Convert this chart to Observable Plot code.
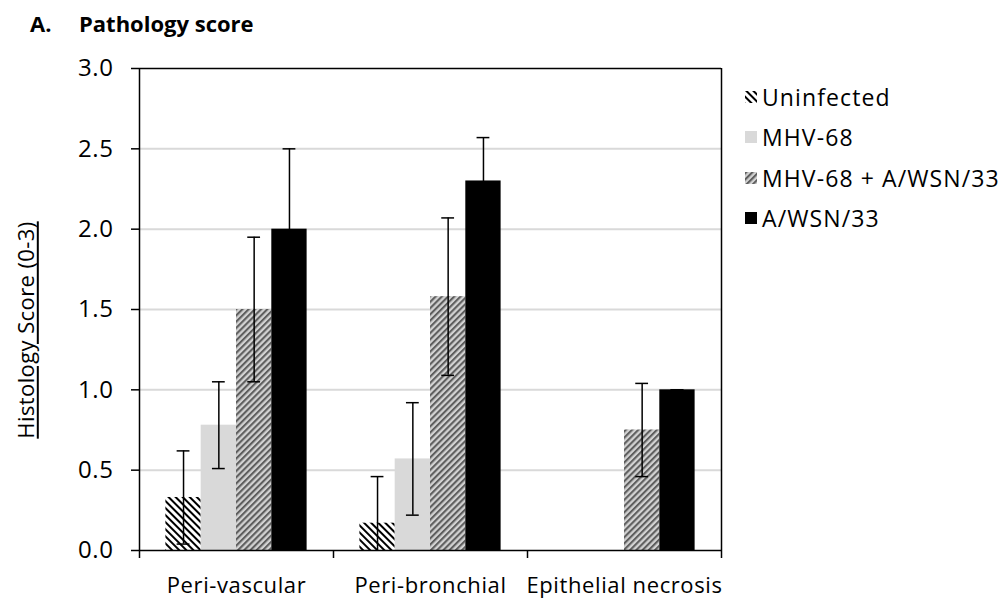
<!DOCTYPE html>
<html>
<head>
<meta charset="utf-8">
<script src="https://cdn.jsdelivr.net/npm/d3@7"></script>
<script src="https://cdn.jsdelivr.net/npm/@observablehq/plot@0.6"></script>
<style>
  body { margin: 0; background: #fff; font-family: "Open Sans", sans-serif; color: #000; }
  #wrap { position: relative; width: 1005px; height: 599px; overflow: hidden; }
  #title { position: relative; height: 40px; font-weight: bold; font-size: 22px; line-height: 1.362; }
  #title span { position: absolute; top: 9px; }
  #ylabel { position: absolute; left: 25px; top: 330px; font-size: 22px; letter-spacing: 0.4px; white-space: nowrap;
            line-height: 1.2; text-decoration: underline; text-underline-offset: 3px;
            transform: translate(-50%, -50%) rotate(-90deg); }
  #legend { position: absolute; left: 745px; top: 77px; font-size: 23px; letter-spacing: 1.1px; }
  .item { display: flex; align-items: center; height: 40.3px; }
  .item svg { margin-right: 5px; }
  #defs { position: absolute; width: 0; height: 0; }
</style>
</head>
<body>
<div id="wrap">
  <div id="title"><span style="left:30px">A.</span><span style="left:79px">Pathology score</span></div>
  <div id="chart"></div>
  <div id="ylabel">Histology Score (0-3)</div>
  <div id="legend"></div>
  <svg id="defs" aria-hidden="true">
    <defs>
      <pattern id="hatch-uninfected" patternUnits="userSpaceOnUse" width="5" height="5" patternTransform="rotate(-45)">
        <rect width="5" height="5" fill="#ffffff"></rect>
        <rect width="2" height="5" fill="#000000"></rect>
      </pattern>
      <pattern id="hatch-coinfected" patternUnits="userSpaceOnUse" width="4.4" height="4.4" patternTransform="rotate(45)">
        <rect width="4.4" height="4.4" fill="#d2d2d2"></rect>
        <rect width="2.1" height="4.4" fill="#5e5e5e"></rect>
      </pattern>
    </defs>
  </svg>
</div>
<script>
// Histology scores (mean ± error) per lesion type and infection group
const categories = ["Peri-vascular", "Peri-bronchial", "Epithelial necrosis"];
const series = ["Uninfected", "MHV-68", "MHV-68 + A/WSN/33", "A/WSN/33"];

const uninfected    = [0.33, 0.17, 0];
const uninfectedErr = [0.29, 0.29, 0];
const mhv68         = [0.78, 0.57, 0];
const mhv68Err      = [0.27, 0.35, 0];
const coinfected    = [1.50, 1.58, 0.75];
const coinfectedErr = [0.45, 0.49, 0.29];
const wsn           = [2.00, 2.30, 1.00];
const wsnErr        = [0.50, 0.27, 0];

const yTicks = [0, 0.5, 1, 1.5, 2, 2.5, 3];
const gridTicks = [0.5, 1, 1.5, 2, 2.5];

const seriesValues = [uninfected, mhv68, coinfected, wsn];
const seriesErrors = [uninfectedErr, mhv68Err, coinfectedErr, wsnErr];
const seriesFills = ["url(#hatch-uninfected)", "#d9d9d9", "url(#hatch-coinfected)", "#000000"];

// Each category spans one unit on x; four bars are clustered in its middle.
const barWidth = 0.182;
const groupOffset = (1 - series.length * barWidth) / 2;
const capHalf = 0.033;

const rows = categories.flatMap((category, i) =>
  series.map((s, j) => ({
    i, j, category, series: s,
    value: seriesValues[j][i],
    err: seriesErrors[j][i]
  }))
);
const left = d => d.i + groupOffset + d.j * barWidth;
const center = d => left(d) + barWidth / 2;
const withError = rows.filter(d => d.value > 0);
const caps = withError.flatMap(d => [
  {...d, y: d.value + d.err},
  {...d, y: d.value - d.err}
]).filter(d => d.y >= 0);

const chart = Plot.plot({
  width: 1005,
  height: 559,
  marginTop: 28,
  marginBottom: 49,
  marginLeft: 139,
  marginRight: 284,
  style: { fontFamily: "Open Sans, sans-serif", fontSize: "22px", color: "#000", background: "transparent", letterSpacing: "0.6px" },
  x: { domain: [0, categories.length], axis: null },
  y: { domain: [0, 3], axis: null },
  color: { domain: series, range: seriesFills },
  marks: [
    Plot.ruleY(gridTicks, { stroke: "#d9d9d9", strokeWidth: 2 }),
    Plot.rectY(rows, {
      x1: left,
      x2: d => left(d) + barWidth,
      y: "value",
      fill: "series"
    }),
    Plot.ruleX(withError, {
      x: center,
      y1: d => d.value - d.err,
      y2: d => d.value + d.err,
      stroke: "#000",
      strokeWidth: 1.5,
      clip: true
    }),
    Plot.ruleY(caps, {
      x1: d => center(d) - capHalf,
      x2: d => center(d) + capHalf,
      y: "y",
      stroke: "#000",
      strokeWidth: 1.5
    }),
    Plot.ruleY([3], { stroke: "#000", strokeWidth: 1.5 }),
    Plot.ruleX([categories.length], { stroke: "#000", strokeWidth: 1.5 }),
    Plot.ruleX([0], { stroke: "#000", strokeWidth: 1.5 }),
    Plot.ruleY([0], { stroke: "#000", strokeWidth: 1.5 }),
    Plot.axisY({
      ticks: yTicks,
      tickFormat: d3.format(".1f"),
      tickSize: 8,
      tickPadding: 18,
      strokeWidth: 1.5,
      fontSize: 24,
      label: null
    }),
    Plot.axisX({
      ticks: d3.range(categories.length + 1),
      tickFormat: () => "",
      tickSize: 8,
      strokeWidth: 1.5,
      label: null
    }),
    Plot.axisX({
      ticks: categories.map((c, i) => i + 0.5),
      tickFormat: d => categories[Math.floor(d)],
      tickSize: 0,
      tickPadding: 27,
      fontSize: 22,
      label: null
    })
  ]
});
document.getElementById("chart").append(chart);

// Legend with the same fills as the bars
const legend = d3.select("#legend");
series.forEach((s, j) => {
  const item = legend.append("div").attr("class", "item");
  const sw = item.append("svg").attr("width", 12).attr("height", 12);
  sw.append("rect").attr("width", 12).attr("height", 12).attr("fill", seriesFills[j]);
  item.append("span").text(s);
});
</script>
</body>
</html>
